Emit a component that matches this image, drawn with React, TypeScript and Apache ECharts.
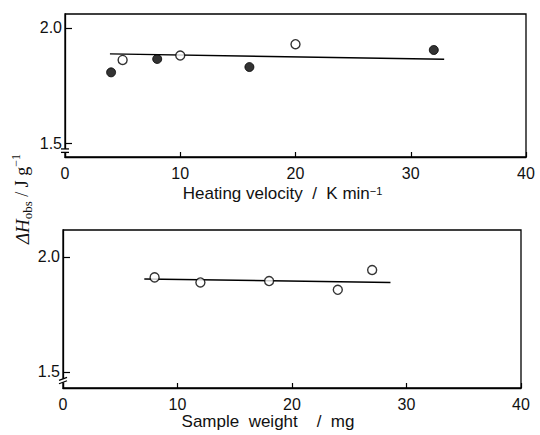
import React, { useEffect, useRef } from "react";
import * as echarts from "echarts";

// Top panel: heating velocity (K/min) vs ΔH_obs (J/g)
const heatingFilledX = [4, 8, 16, 32];
const heatingFilledY = [1.807, 1.865, 1.83, 1.904];
const heatingOpenX = [5, 10, 20];
const heatingOpenY = [1.861, 1.88, 1.929];
const heatingFitX = [3.9, 32.9];
const heatingFitY = [1.887, 1.864];

// Bottom panel: sample weight (mg) vs ΔH_obs (J/g)
const weightOpenX = [8, 12, 18, 24, 27];
const weightOpenY = [1.911, 1.889, 1.895, 1.857, 1.943];
const weightFitX = [7.1, 28.6];
const weightFitY = [1.904, 1.889];

const xTicks = [0, 10, 20, 30, 40];
const yTickValues = [1.5, 2.0];

const zip = (xs: number[], ys: number[]) => xs.map((x, i) => [x, ys[i]]);

const FONT = "Liberation Sans";

export default function App() {
  const ref = useRef<HTMLDivElement>(null);
  useEffect(() => {
    if (!ref.current) return;
    const chart = echarts.init(ref.current, undefined, { renderer: "svg" });

    const xAxisBase = (gridIndex: number, name: string, nameGap: number, padRight: number) => ({
      type: "value",
      gridIndex,
      min: xTicks[0],
      max: xTicks[xTicks.length - 1],
      interval: 10,
      axisLine: { show: true, lineStyle: { color: "#000", width: 1.3 } },
      axisTick: { show: true, inside: true, length: 5, lineStyle: { color: "#000", width: 1.2 } },
      axisLabel: { color: "#111", fontSize: 16, fontFamily: FONT, margin: 8 },
      splitLine: { show: false },
      name,
      nameLocation: "middle",
      nameGap,
      nameTextStyle: {
        color: "#111",
        fontSize: 17,
        fontFamily: FONT,
        padding: [0, padRight, 0, 0],
        rich: {
          sup: { fontSize: 11, fontFamily: FONT, color: "#111", verticalAlign: "top", padding: [0, 0, 6, 0] },
        },
      },
    });

    const yAxisBase = (gridIndex: number, min: number, max: number) => ({
      type: "value",
      gridIndex,
      min,
      max,
      axisLine: { show: true, lineStyle: { color: "#000", width: 1.3 } },
      axisTick: {
        show: true,
        inside: true,
        length: 7,
        customValues: yTickValues,
        lineStyle: { color: "#000", width: 1.2 },
      },
      axisLabel: {
        color: "#111",
        fontSize: 16,
        fontFamily: FONT,
        margin: 3,
        customValues: yTickValues,
        formatter: (v: number) => v.toFixed(1),
      },
      splitLine: { show: false },
    });

    const option: any = {
      animation: false,
      backgroundColor: "#fff",
      grid: [
        { left: 65, right: 14, top: 14, height: 143, show: true, borderColor: "#000", borderWidth: 1.3, backgroundColor: "transparent" },
        { left: 63, right: 19, top: 230, height: 158, show: true, borderColor: "#000", borderWidth: 1.3, backgroundColor: "transparent" },
      ],
      xAxis: [
        xAxisBase(0, "Heating velocity  /  K min{sup|−1}", 28, 26),
        xAxisBase(1, "Sample  weight    /  mg", 23, 48),
      ],
      yAxis: [yAxisBase(0, 1.44, 2.06), yAxisBase(1, 1.43, 2.117)],
      series: [
        {
          type: "line",
          xAxisIndex: 0,
          yAxisIndex: 0,
          data: zip(heatingFitX, heatingFitY),
          showSymbol: false,
          symbol: "none",
          lineStyle: { color: "#000", width: 1.4 },
        },
        {
          type: "scatter",
          xAxisIndex: 0,
          yAxisIndex: 0,
          data: zip(heatingFilledX, heatingFilledY),
          symbol: "circle",
          symbolSize: 9,
          itemStyle: { color: "#000", borderColor: "#000", borderWidth: 1 },
          z: 3,
        },
        {
          type: "scatter",
          xAxisIndex: 0,
          yAxisIndex: 0,
          data: zip(heatingOpenX, heatingOpenY),
          symbol: "circle",
          symbolSize: 9,
          itemStyle: { color: "#fff", borderColor: "#000", borderWidth: 1.4 },
          z: 3,
        },
        {
          type: "line",
          xAxisIndex: 1,
          yAxisIndex: 1,
          data: zip(weightFitX, weightFitY),
          showSymbol: false,
          symbol: "none",
          lineStyle: { color: "#000", width: 1.4 },
        },
        {
          type: "scatter",
          xAxisIndex: 1,
          yAxisIndex: 1,
          data: zip(weightOpenX, weightOpenY),
          symbol: "circle",
          symbolSize: 9,
          itemStyle: { color: "#fff", borderColor: "#000", borderWidth: 1.4 },
          z: 3,
        },
      ],
    };
    chart.setOption(option);

    // Axis-break marks and the rotated y-axis title
    const breakMarks = (gridIdx: number, vHigh: number, vLow: number, slant: number) => {
      const p1 = chart.convertToPixel({ gridIndex: gridIdx } as any, [0, vHigh]) as number[];
      const p2 = chart.convertToPixel({ gridIndex: gridIdx } as any, [0, vLow]) as number[];
      const x = p1[0];
      return [
        { type: "rect", shape: { x: x - 2, y: p1[1], width: 4, height: p2[1] - p1[1] }, style: { fill: "#fff" }, z: 100 },
        { type: "line", shape: { x1: x - 4, y1: p1[1] + slant, x2: x + 4, y2: p1[1] - slant }, style: { stroke: "#000", lineWidth: 1.3 }, z: 101 },
        { type: "line", shape: { x1: x - 4, y1: p2[1] + slant, x2: x + 4, y2: p2[1] - slant }, style: { stroke: "#000", lineWidth: 1.3 }, z: 101 },
      ];
    };

    chart.setOption({
      graphic: [
        ...breakMarks(0, 1.475, 1.46, 0),
        ...breakMarks(1, 1.47, 1.455, 1.5),
        {
          type: "text",
          x: 22,
          y: 199,
          rotation: Math.PI / 2,
          style: {
            text: "{it|ΔH}{sub|obs}{n| / J g}{sup|−1}",
            align: "center",
            verticalAlign: "middle",
            fill: "#111",
            fontSize: 18,
            lineHeight: 24,
            rich: {
              it: { fontFamily: "Liberation Serif", fontStyle: "italic", fontSize: 19, fill: "#111", lineHeight: 24 },
              sub: { fontFamily: "Liberation Serif", fontSize: 13, fill: "#111", verticalAlign: "bottom", lineHeight: 24 },
              n: { fontFamily: "Liberation Serif", fontSize: 18, fill: "#111", lineHeight: 24 },
              sup: { fontFamily: "Liberation Serif", fontSize: 12, fill: "#111", verticalAlign: "top", lineHeight: 24 },
            },
          },
        },
      ],
    });

    return () => chart.dispose();
  }, []);

  return (
    <div
      ref={ref}
      style={{ position: "fixed", left: 0, top: 0, width: 540, height: 435, background: "#fff" }}
    />
  );
}
